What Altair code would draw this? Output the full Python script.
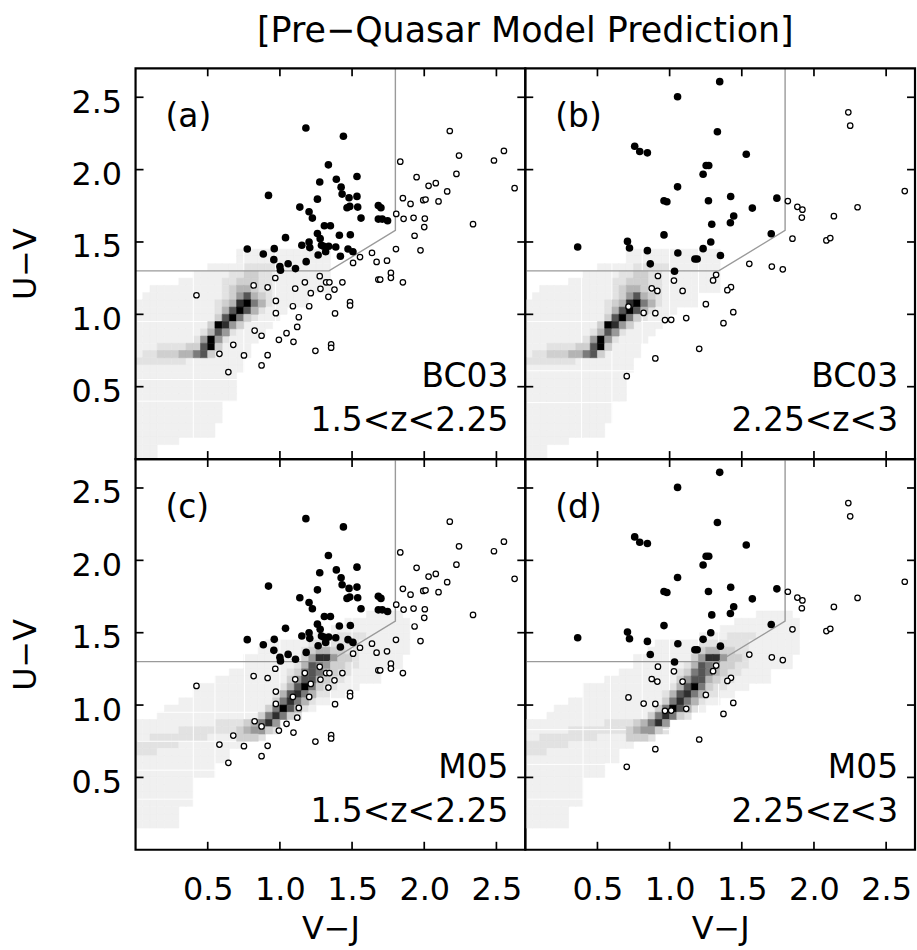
import altair as alt
import pandas as pd

FONT = "DejaVu Sans"
TICKS = [0.5, 1.0, 1.5, 2.0, 2.5]
CELL = 0.05

# ---------------- UVJ quiescent-selection boundary ----------------
BOX_VJ = [0.0, 1.34, 1.80, 1.80]
BOX_UV = [1.30, 1.30, 1.58, 2.70]

# ---------------- observed galaxies, 1.5<z<2.25 (panels a, c) ----------------
LOZ_Q_VJ = [1.180, 1.440, 1.336, 1.534, 1.276, 1.391, 1.424, 0.921, 1.431, 1.479, 1.534, 1.260, 1.138,
            1.202, 1.225, 1.465, 1.484, 1.539, 1.562, 1.682, 1.700, 1.682, 1.709, 1.746, 1.308, 1.350,
            1.260, 1.412, 1.488, 1.039, 1.279, 1.288, 1.202, 1.152, 1.207, 1.303, 1.338, 1.387, 1.317,
            1.265, 1.419, 1.472, 1.506, 0.774, 0.885, 0.961, 0.958, 1.057, 1.000, 1.004, 1.108, 1.182]
LOZ_Q_UV = [2.288, 2.231, 2.033, 1.953, 1.914, 1.934, 1.879, 1.822, 1.831, 1.806, 1.815, 1.796, 1.741,
            1.709, 1.665, 1.737, 1.746, 1.741, 1.665, 1.752, 1.737, 1.658, 1.658, 1.647, 1.612, 1.612,
            1.559, 1.546, 1.550, 1.530, 1.523, 1.477, 1.500, 1.477, 1.461, 1.470, 1.470, 1.465, 1.433,
            1.410, 1.401, 1.452, 1.433, 1.452, 1.417, 1.454, 1.378, 1.350, 1.330, 1.305, 1.316, 1.364]
LOZ_SF_VJ = [2.177, 2.241, 2.552, 2.483, 2.626, 2.223, 1.834, 1.947, 2.030, 2.080, 2.159, 2.099, 1.993,
             2.009, 1.905, 1.852, 2.338, 1.806, 1.857, 1.926, 2.004, 2.000, 1.933, 1.974, 1.804, 1.742,
             1.670, 1.638, 1.555, 1.507, 1.769, 1.769, 1.682, 1.695, 1.852, 1.433, 1.378, 1.320, 1.343,
             1.276, 1.281, 1.336, 1.214, 1.173, 1.106, 0.968, 0.915, 0.818, 0.972, 0.972, 1.090, 1.203,
             1.131, 1.120, 1.486, 1.486, 1.382, 0.422, 0.825, 0.873, 0.993, 1.046, 1.094, 0.677, 0.581,
             0.751, 0.915, 0.873, 0.643, 1.246, 1.355, 1.355]
LOZ_SF_UV = [2.267, 2.097, 2.129, 2.063, 1.872, 1.970, 2.055, 1.948, 1.888, 1.906, 1.849, 1.780, 1.789,
             1.793, 1.763, 1.803, 1.623, 1.694, 1.660, 1.667, 1.662, 1.603, 1.543, 1.442, 1.451, 1.371,
             1.362, 1.424, 1.396, 1.355, 1.286, 1.252, 1.240, 1.240, 1.221, 1.221, 1.171, 1.221, 1.221,
             1.264, 1.176, 1.121, 1.146, 1.221, 1.178, 1.251, 1.187, 1.200, 1.093, 1.008, 1.056, 1.056,
             0.980, 0.913, 1.084, 1.061, 1.006, 1.132, 0.888, 0.852, 0.824, 0.870, 0.810, 0.789, 0.727,
             0.716, 0.718, 0.647, 0.601, 0.748, 0.792, 0.769]

# ---------------- observed galaxies, 2.25<z<3 (panels b, d) ----------------
HIZ_Q_VJ = [1.347, 1.055, 1.331, 0.758, 0.793, 0.846, 1.531, 1.253, 1.271, 1.232, 1.055, 1.423, 1.743,
            0.961, 0.981, 1.269, 1.573, 1.444, 1.421, 1.292, 0.961, 1.704, 0.363, 0.708, 0.722, 0.846,
            1.285, 1.232, 1.057, 1.175, 1.191, 1.352, 0.866, 1.034]
HIZ_Q_UV = [2.608, 2.504, 2.262, 2.162, 2.125, 2.116, 2.106, 2.028, 2.028, 1.968, 1.881, 1.814, 1.803,
            1.785, 1.778, 1.785, 1.734, 1.679, 1.633, 1.623, 1.549, 1.557, 1.465, 1.504, 1.458, 1.440,
            1.500, 1.454, 1.424, 1.382, 1.382, 1.407, 1.349, 1.298]
HIZ_SF_VJ = [2.238, 2.251, 2.629, 2.302, 2.138, 1.819, 1.885, 1.920, 1.916, 1.851, 2.086, 2.113, 1.552,
             1.708, 1.784, 1.322, 1.301, 0.919, 1.030, 0.876, 0.915, 1.090, 1.425, 1.400, 1.251, 1.441,
             0.715, 0.820, 0.901, 0.968, 1.011, 1.115, 1.373, 1.205, 0.901, 0.703]
HIZ_SF_UV = [2.396, 2.304, 1.852, 1.740, 1.678, 1.783, 1.743, 1.723, 1.669, 1.523, 1.511, 1.527, 1.349,
             1.330, 1.311, 1.273, 1.234, 1.265, 1.233, 1.180, 1.162, 1.162, 1.188, 1.167, 1.070, 1.015,
             1.053, 1.010, 1.008, 0.960, 0.962, 0.974, 0.939, 0.762, 0.695, 0.573]

# ---------------- model density maps: (row j, first column i, gray levels 1..9), cells of 0.05 mag ----------------
BC03_ROWS = [
    (28, 14, "1111111111111"),
    (27, 14, "1111111111111"),
    (26, 10, "11111222221111111"),
    (25, 8, "1111122332211111111"),
    (24, 6, "111111223332211111111"),
    (23, 2, "1111111111234432211111111"),
    (22, 1, "11111111111235743211111"),
    (21, 0, "111111111112348964211111"),
    (20, 0, "111111111112479742111"),
    (19, 0, "11111111111379632111"),
    (18, 0, "1111111111398531111"),
    (17, 0, "111111111247521111"),
    (16, 0, "11111111259521111"),
    (15, 0, "1112222337931111"),
    (14, 0, "1223334467311111"),
    (13, 0, "222222211111111"),
    (12, 0, "111111111111111"),
    (11, 0, "11111111111111"),
    (10, 0, "11111111111111"),
    (9, 0, "11111111111111"),
    (8, 0, "11111111111111"),
    (7, 0, "111111111111"),
    (6, 0, "111111111111"),
    (5, 0, "111111111111"),
    (4, 0, "11111111111"),
    (3, 0, "11111111111"),
    (2, 0, "111111"),
    (1, 0, "111"),
    (0, 0, "111"),
]
M05_ROWS = [
    (32, 32, "11111"),
    (31, 29, "111111111"),
    (30, 27, "11111111111"),
    (29, 24, "11112222111111"),
    (28, 18, "11111122222221111111"),
    (27, 17, "111111234433221111111"),
    (26, 15, "1111111135885332111111"),
    (25, 15, "1111111247653322111111"),
    (24, 13, "111111112367643221111"),
    (23, 11, "11111111113577432211111"),
    (22, 8, "11111111111124796322111"),
    (21, 8, "111111111112478642211"),
    (20, 6, "111111111111136864211"),
    (19, 4, "111111111111113697421"),
    (18, 3, "11111111111111368632"),
    (17, 0, "11111111111222234685"),
    (16, 0, "11111122222222345532"),
    (15, 0, "112222222211113332"),
    (14, 0, "222222111111111"),
    (13, 0, "2221111111111"),
    (12, 0, "1111111111111"),
    (11, 0, "11111111111"),
    (10, 0, "11111111111"),
    (9, 0, "11111111"),
    (8, 0, "11111111"),
    (7, 0, "11111111"),
    (6, 0, "11111111"),
    (5, 0, "111111"),
    (4, 0, "111111"),
    (3, 0, "111111"),
]
GRAY_LEVELS = [1, 2, 3, 4, 5, 6, 7, 8, 9]
GRAY_COLORS = ["#f0f0f0", "#e2e2e2", "#cfcfcf", "#b4b4b4", "#999999",
               "#7a7a7a", "#555555", "#2e2e2e", "#000000"]

# thin white resampling seams seen in the light part of each map
SEAM_X = {"a": [0.40, 0.75, 0.97], "b": [0.39, 0.60, 0.81, 1.00, 1.20],
          "c": [0.40, 0.55, 0.755, 1.00, 1.35, 1.50], "d": [0.40, 0.59, 0.81, 1.00, 1.20, 1.34]}
SEAM_Y = {"a": [0.40, 0.55, 0.95], "b": [0.39, 0.61, 0.95],
          "c": [0.35, 0.55, 0.75, 0.95], "d": [0.35, 0.59, 0.83]}

PANEL_KEYS = ["a", "b", "c", "d"]
PANEL_TAGS = ["(a)", "(b)", "(c)", "(d)"]
PANEL_MODELS = ["BC03", "BC03", "M05", "M05"]
PANEL_ZBINS = ["1.5<z<2.25", "2.25<z<3", "1.5<z<2.25", "2.25<z<3"]
TITLE = "[Pre\u2212Quasar Model Prediction]"
XTITLE = "V\u2212J"
YTITLE = "U\u2212V"


def grid_frame(rows):
    recs = []
    for j, i0, vals in rows:
        for n, ch in enumerate(vals):
            i = i0 + n
            recs.append({"vj0": i * CELL, "vj1": (i + 1) * CELL,
                         "uv0": j * CELL, "uv1": (j + 1) * CELL, "level": int(ch)})
    return pd.DataFrame(recs)


GRIDS = {"BC03": grid_frame(BC03_ROWS), "M05": grid_frame(M05_ROWS)}
LOZ_Q = pd.DataFrame({"vj": LOZ_Q_VJ, "uv": LOZ_Q_UV})
LOZ_SF = pd.DataFrame({"vj": LOZ_SF_VJ, "uv": LOZ_SF_UV})
HIZ_Q = pd.DataFrame({"vj": HIZ_Q_VJ, "uv": HIZ_Q_UV})
HIZ_SF = pd.DataFrame({"vj": HIZ_SF_VJ, "uv": HIZ_SF_UV})
BOX = pd.DataFrame({"vj": BOX_VJ, "uv": BOX_UV, "k": list(range(len(BOX_VJ)))})
TICK_DF = pd.DataFrame({"v": TICKS})

W, H = 391, 392
TL = 8
XS = alt.Scale(domain=[0, 2.7], nice=False, zero=False)
YS = alt.Scale(domain=[0, 2.7], nice=False, zero=False)
GRAY = alt.Scale(domain=GRAY_LEVELS, range=GRAY_COLORS)

XAXIS = alt.Axis(values=TICKS, format=".1f", ticks=False, tickSize=0, domain=False, grid=False,
                 labelFont=FONT, labelFontSize=32, labelColor="black", labelPadding=50,
                 labelBaseline="alphabetic", labelFlush=False, labelOverlap=False,
                 title=XTITLE, titleFont=FONT, titleFontSize=32, titleFontWeight="normal",
                 titleColor="black", titleBaseline="alphabetic", titleY=89)
YAXIS = alt.Axis(values=TICKS, format=".1f", ticks=False, tickSize=0, domain=False, grid=False,
                 labelFont=FONT, labelFontSize=32, labelColor="black", labelPadding=14,
                 labelBaseline="middle", labelOffset=5, labelFlush=False, labelOverlap=False,
                 title=YTITLE, titleFont=FONT, titleFontSize=32, titleFontWeight="normal",
                 titleColor="black", titleAngle=270, titleBaseline="alphabetic", titleAlign="center",
                 titleX=-100, titleY=H / 2)


def panel(idx, left, bottom):
    key = PANEL_KEYS[idx]
    grid = GRIDS[PANEL_MODELS[idx]]
    qdf, sfdf = (LOZ_Q, LOZ_SF) if PANEL_ZBINS[idx] == "1.5<z<2.25" else (HIZ_Q, HIZ_SF)

    def X(f):
        return alt.X(f, scale=XS, axis=(XAXIS if bottom else None))

    def Y(f):
        return alt.Y(f, scale=YS, axis=(YAXIS if left else None))

    col = alt.Color("level:O", scale=GRAY, legend=None)
    light = alt.Chart(grid).transform_filter("datum.level <= 2").mark_rect(strokeWidth=0.6).encode(
        x=X("vj0:Q"), x2="vj1:Q", y=Y("uv0:Q"), y2="uv1:Q", color=col, stroke=col)
    dark = alt.Chart(grid).transform_filter("datum.level > 2").mark_rect(strokeWidth=0.6).encode(
        x=X("vj0:Q"), x2="vj1:Q", y=Y("uv0:Q"), y2="uv1:Q", color=col, stroke=col)
    seam_v = alt.Chart(pd.DataFrame({"s": SEAM_X[key]})).mark_rule(color="white", strokeWidth=1).encode(
        x=X("s:Q"), y=alt.value(2), y2=alt.value(H - 2))
    seam_h = alt.Chart(pd.DataFrame({"s": SEAM_Y[key]})).mark_rule(color="white", strokeWidth=1).encode(
        y=Y("s:Q"), x=alt.value(2), x2=alt.value(W - 2))
    box = alt.Chart(BOX).mark_line(color="#9a9a9a", strokeWidth=1.4).encode(
        x=X("vj:Q"), y=Y("uv:Q"), order="k:Q")
    sf = alt.Chart(sfdf).mark_point(shape="circle", size=30, fill="white", stroke="black",
                                    strokeWidth=1.25, opacity=1, fillOpacity=1).encode(
        x=X("vj:Q"), y=Y("uv:Q"))
    q = alt.Chart(qdf).mark_circle(size=58, color="black", opacity=1).encode(
        x=X("vj:Q"), y=Y("uv:Q"))
    tk = dict(color="black", strokeWidth=1.7)
    t_bot = alt.Chart(TICK_DF).mark_rule(**tk).encode(x=X("v:Q"), y=alt.value(H), y2=alt.value(H - TL))
    t_top = alt.Chart(TICK_DF).mark_rule(**tk).encode(x=X("v:Q"), y=alt.value(0), y2=alt.value(TL))
    t_lft = alt.Chart(TICK_DF).mark_rule(**tk).encode(y=Y("v:Q"), x=alt.value(0), x2=alt.value(TL))
    t_rgt = alt.Chart(TICK_DF).mark_rule(**tk).encode(y=Y("v:Q"), x=alt.value(W), x2=alt.value(W - TL))
    txt = dict(font=FONT, fontSize=33, color="black", baseline="alphabetic")
    tag = alt.Chart(pd.DataFrame({"t": [PANEL_TAGS[idx]]})).mark_text(align="left", **txt).encode(
        x=alt.value(30), y=alt.value(59), text="t:N")
    mod = alt.Chart(pd.DataFrame({"t": [PANEL_MODELS[idx]]})).mark_text(align="right", **txt).encode(
        x=alt.value(374), y=alt.value(320), text="t:N")
    zb = alt.Chart(pd.DataFrame({"t": [PANEL_ZBINS[idx]]})).mark_text(align="right", **txt).encode(
        x=alt.value(374), y=alt.value(364), text="t:N")
    frame = alt.Chart(pd.DataFrame({"t": [0]})).mark_rect(filled=False, stroke="black", strokeWidth=2.2).encode(
        x=alt.value(0), x2=alt.value(W), y=alt.value(0), y2=alt.value(H))
    return alt.layer(light, seam_v, seam_h, dark, box, sf, q, t_bot, t_top, t_lft, t_rgt,
                     tag, mod, zb, frame).properties(width=W, height=H)


panels = [panel(0, True, False), panel(1, False, False), panel(2, True, True), panel(3, False, True)]
chart = alt.concat(*panels, columns=2, spacing=0, bounds="flush").properties(
    title=alt.TitleParams(TITLE, font=FONT, fontSize=35, fontWeight="normal", color="black",
                          anchor="start", align="center", dx=W, frame="group",
                          baseline="alphabetic", offset=-12),
    padding={"left": 9, "top": 12, "right": 0, "bottom": 0},
    background="white",
).configure_view(stroke="transparent")

chart.save("out.html", embed_options={"renderer": "svg", "actions": False})
